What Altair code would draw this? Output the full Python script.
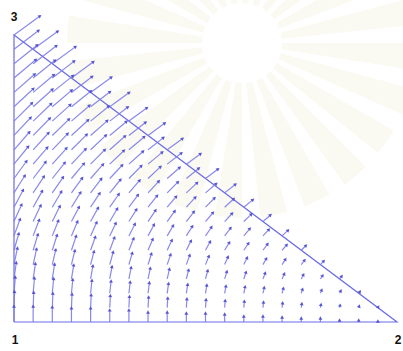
import math
import altair as alt
import pandas as pd

# Triangle grid: column index a (toward vertex 2), row index b (toward vertex 3).
# Horizontal component of each arrow, one value per row (grid units).
row_dx = [0.00, 0.03, 0.07, 0.12, 0.18, 0.25, 0.32, 0.40, 0.48, 0.57, 0.66,
          0.75, 0.81, 0.88, 0.95, 1.02, 1.09, 1.15, 1.22, 1.29, 1.36]

# Vertical component of each arrow, row by row from the base upward.
dy_rows = [
    [1.11, 1.11, 1.05, 0.98, 0.98, 0.84, 0.84, 0.70, 0.70, 0.63, 0.63, 0.56, 0.42, 0.42, 0.35, 0.28, 0.28, 0.14, 0.14, 0.07, 0.00],
    [1.13, 1.07, 1.01, 0.96, 0.90, 0.85, 0.79, 0.74, 0.68, 0.62, 0.57, 0.51, 0.46, 0.40, 0.34, 0.29, 0.23, 0.18, 0.12, 0.07],
    [1.14, 1.08, 1.03, 0.97, 0.91, 0.86, 0.80, 0.75, 0.69, 0.63, 0.58, 0.52, 0.47, 0.41, 0.36, 0.30, 0.24, 0.19, 0.13],
    [1.15, 1.09, 1.04, 0.98, 0.92, 0.87, 0.81, 0.76, 0.70, 0.64, 0.59, 0.53, 0.48, 0.42, 0.37, 0.31, 0.25, 0.20],
    [1.16, 1.10, 1.05, 0.99, 0.93, 0.88, 0.82, 0.77, 0.71, 0.66, 0.60, 0.54, 0.49, 0.43, 0.38, 0.32, 0.26],
    [1.17, 1.11, 1.06, 1.00, 0.94, 0.89, 0.83, 0.78, 0.72, 0.67, 0.61, 0.55, 0.50, 0.44, 0.39, 0.33],
    [1.18, 1.12, 1.07, 1.01, 0.95, 0.90, 0.84, 0.79, 0.73, 0.68, 0.62, 0.56, 0.51, 0.45, 0.40],
    [1.19, 1.13, 1.08, 1.02, 0.97, 0.91, 0.85, 0.80, 0.74, 0.69, 0.63, 0.58, 0.52, 0.46],
    [1.20, 1.14, 1.09, 1.03, 0.98, 0.92, 0.86, 0.81, 0.75, 0.70, 0.64, 0.59, 0.53],
    [1.21, 1.15, 1.10, 1.04, 0.99, 0.93, 0.88, 0.82, 0.76, 0.71, 0.65, 0.60],
    [1.22, 1.16, 1.11, 1.05, 1.00, 0.94, 0.89, 0.83, 0.77, 0.72, 0.66],
    [1.23, 1.17, 1.12, 1.06, 1.01, 0.95, 0.90, 0.84, 0.78, 0.73],
    [1.24, 1.19, 1.13, 1.07, 1.02, 0.96, 0.91, 0.85, 0.79],
    [1.25, 1.20, 1.14, 1.08, 1.03, 0.97, 0.92, 0.86],
    [1.26, 1.21, 1.15, 1.09, 1.04, 0.98, 0.93],
    [1.27, 1.22, 1.16, 1.10, 1.05, 0.99],
    [1.28, 1.23, 1.17, 1.11, 1.06],
    [1.29, 1.24, 1.18, 1.13],
    [1.30, 1.25, 1.19],
    [1.31, 1.26],
    [1.32],
]

vertex_labels = ["1", "2", "3"]
vertex_x = [0, 20, 0]
vertex_y = [0, 0, 20]

# Faint seal watermark behind the plot: ray directions (radians, clockwise from up).
ray_angles = [i * 2 * math.pi / 24 for i in range(24)]

W, H = 383, 287
N = 20
px_x, px_y = W / N, H / N

rows = []
for b, dys in enumerate(dy_rows):
    for a, dy in enumerate(dys):
        dx = row_dx[b]
        ang = math.degrees(math.atan2(dx * px_x, dy * px_y)) if (dx or dy) else 0.0
        rows.append({"x": a, "y": b, "x2": a + dx, "y2": b + dy,
                     "ang": ang, "len": math.hypot(dx * px_x, dy * px_y)})
field = pd.DataFrame(rows)

xs = alt.Scale(domain=[0, N], nice=False, zero=False)
ys = alt.Scale(domain=[0, N], nice=False, zero=False)

rays = pd.DataFrame({"t1": ray_angles,
                     "t2": [t + 2 * math.pi / 40 for t in ray_angles]})
seal = alt.Chart(rays).mark_arc(
    innerRadius=40, outerRadius=175, color="#f2eedb", opacity=0.35, clip=False
).encode(
    x=alt.value(228), y=alt.value(8),
    theta=alt.Theta("t1:Q", scale=None), theta2="t2:Q",
)

edges = pd.DataFrame({"x": vertex_x + [vertex_x[0]],
                      "y": vertex_y + [vertex_y[0]],
                      "o": [0, 1, 2, 3]})

tri = alt.Chart(edges).mark_line(color="#6c6ce4", strokeWidth=1.2, clip=False).encode(
    x=alt.X("x:Q", scale=xs, axis=None),
    y=alt.Y("y:Q", scale=ys, axis=None),
    order="o:Q",
)

base = alt.Chart(field).transform_filter("datum.len > 0.8")

shafts = base.mark_rule(color="#7c7ce8", strokeWidth=1.2, opacity=0.9, clip=False).encode(
    x=alt.X("x:Q", scale=xs, axis=None),
    y=alt.Y("y:Q", scale=ys, axis=None),
    x2="x2:Q",
    y2="y2:Q",
)

heads = base.mark_point(shape="triangle-up", filled=True, color="#4b4bd0",
                        size=15, opacity=0.9, clip=False).encode(
    x=alt.X("x2:Q", scale=xs, axis=None),
    y=alt.Y("y2:Q", scale=ys, axis=None),
    angle=alt.Angle("ang:Q", scale=None),
)

labels_df = pd.DataFrame({"t": vertex_labels, "x": vertex_x, "y": vertex_y})
label_low = alt.Chart(labels_df[labels_df.y == 0]).mark_text(
    font="Liberation Sans", fontWeight="bold", fontSize=12, color="#111111", dy=18, dx=1
).encode(x=alt.X("x:Q", scale=xs, axis=None), y=alt.Y("y:Q", scale=ys, axis=None), text="t:N")
label_top = alt.Chart(labels_df[labels_df.y == N]).mark_text(
    font="Liberation Sans", fontWeight="bold", fontSize=12, color="#111111", dy=-18
).encode(x=alt.X("x:Q", scale=xs, axis=None), y=alt.Y("y:Q", scale=ys, axis=None), text="t:N")

chart = alt.layer(seal, tri, shafts, heads, label_low, label_top).properties(
    width=W, height=H,
    padding={"left": 14, "top": 35, "right": 6, "bottom": 29},
    autosize=alt.AutoSizeParams(type="none"),
    background="white",
).configure_view(stroke=None)

chart.save("out.html", embed_options={"renderer": "svg", "actions": False})
